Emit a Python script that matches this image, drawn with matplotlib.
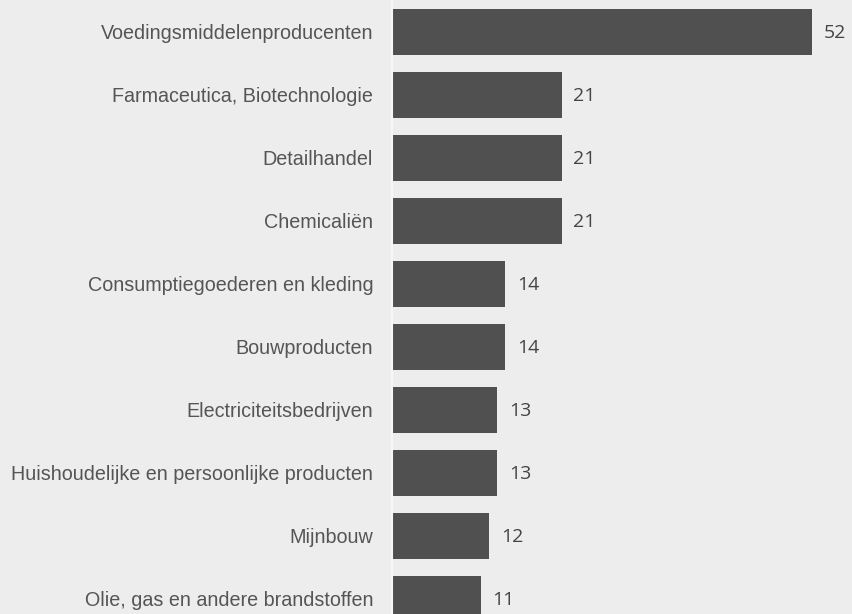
import matplotlib.pyplot as plt

sectoren = [
    'Voedingsmiddelenproducenten',
    'Farmaceutica, Biotechnologie',
    'Detailhandel',
    'Chemicaliën',
    'Consumptiegoederen en kleding',
    'Bouwproducten',
    'Electriciteitsbedrijven',
    'Huishoudelijke en persoonlijke producten',
    'Mijnbouw',
    'Olie, gas en andere brandstoffen',
]
aantallen = [52, 21, 21, 21, 14, 14, 13, 13, 12, 11]

fig = plt.figure(figsize=(8.52, 6.14), dpi=100)
fig.patch.set_facecolor('#ededed')

ax = fig.add_axes([392 / 852, 0, 460 / 852, 1])
ax.set_facecolor('none')

posities = list(range(len(sectoren)))
ax.barh(posities, aantallen, height=0.73, color='#505050')

# waarde rechts naast elke balk
for p, v in zip(posities, aantallen):
    ax.text(v + 1.45, p + 0.02, str(v), va='center', ha='left',
            fontsize=14, color='#444444', family='Open Sans')

ax.set_xlim(0, 56.9)
ax.set_ylim(9.24, -0.508)
ax.set_yticks(posities)
ax.set_yticklabels(sectoren, fontsize=14.2, color='#555555', family='Liberation Sans')
ax.tick_params(axis='y', length=0, pad=13.5)
ax.set_xticks([])

for kant in ['top', 'right', 'bottom']:
    ax.spines[kant].set_visible(False)
ax.spines['left'].set_color('#f7f7f7')
ax.spines['left'].set_linewidth(1.5)

fig.savefig('out.png', dpi=100, facecolor=fig.get_facecolor())
